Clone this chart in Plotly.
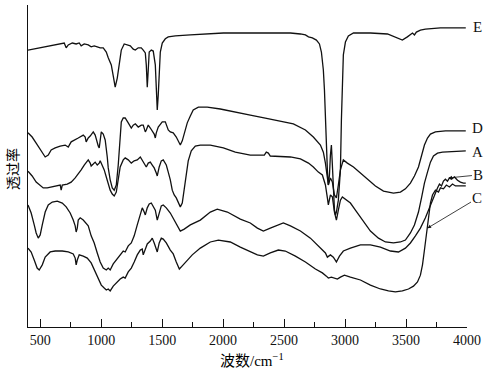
import numpy as np
import plotly.graph_objects as go

# ---- data: wavenumber (cm^-1) and transmittance (arbitrary %, offset curves) ----
wn_E = [400, 500, 623, 672, 697, 713, 730, 763, 795, 820, 836, 861, 894, 918, 943, 968, 992, 1017, 1042, 1058,
        1083, 1099, 1115, 1132, 1148, 1165, 1189, 1214, 1239, 1263, 1280, 1304, 1329, 1345, 1362, 1370, 1378, 1386,
        1394, 1411, 1427, 1444, 1452, 1460, 1468, 1476, 1485, 1501, 1526, 1550, 1608, 1731, 2002, 2305, 2552, 2634,
        2675, 2700, 2732, 2765, 2790, 2806, 2822, 2831, 2839, 2847, 2855, 2863, 2872, 2880, 2888, 2896, 2904, 2913,
        2921, 2929, 2945, 2954, 2962, 2970, 2978, 2986, 3003, 3027, 3069, 3208, 3348, 3413, 3470, 3511, 3536, 3553,
        3569, 3585, 3618, 3659, 3782, 3990]
t_E = [86.0, 86.7, 87.6, 87.9, 88.2, 86.7, 87.6, 88.2, 87.9, 88.2, 87.3, 87.9, 87.6, 87.0, 87.3, 87.0, 86.7, 86.7, 85.4, 83.6,
       81.4, 78.0, 74.5, 77.3, 82.3, 86.0, 87.9, 87.6, 87.3, 86.3, 86.0, 86.7, 86.7, 86.0, 85.1, 81.4, 74.5, 79.8,
       85.4, 86.0, 85.7, 81.4, 75.2, 67.4, 72.0, 79.8, 85.4, 88.2, 89.5, 90.1, 90.4, 90.7, 91.3, 91.3, 91.3, 91.0,
       90.7, 90.1, 89.8, 89.1, 87.9, 85.4, 79.8, 73.6, 64.3, 55.0, 48.8, 44.1, 47.2, 53.4, 56.5, 50.3, 42.5, 36.3,
       34.8, 35.7, 39.4, 44.1, 48.8, 64.3, 78.3, 84.5, 88.5, 90.4, 91.3, 91.3, 91.0, 90.1, 89.1, 90.1, 90.7, 91.3,
       90.7, 91.6, 92.2, 92.5, 92.9, 92.9]

wn_D = [400, 434, 467, 500, 525, 541, 566, 590, 623, 664, 705, 730, 754, 787, 812, 853, 869, 877, 894, 910, 935, 951,
        960, 976, 984, 992, 1001, 1017, 1033, 1050, 1058, 1074, 1091, 1107, 1124, 1140, 1156, 1165, 1181, 1197, 1222,
        1247, 1263, 1280, 1304, 1329, 1345, 1362, 1370, 1386, 1403, 1419, 1435, 1444, 1452, 1468, 1485, 1501, 1526,
        1550, 1567, 1591, 1616, 1632, 1649, 1665, 1681, 1706, 1731, 1755, 1797, 1870, 1977, 2084, 2223, 2346, 2469,
        2576, 2675, 2740, 2798, 2822, 2839, 2855, 2863, 2880, 2896, 2913, 2929, 2945, 2962, 2986, 3019, 3069, 3126,
        3191, 3249, 3315, 3397, 3454, 3495, 3536, 3569, 3602, 3627, 3651, 3676, 3700, 3741, 3823, 3990]
t_D = [60.3, 59.0, 57.1, 55.0, 53.4, 52.8, 53.4, 55.0, 55.6, 56.2, 56.5, 55.9, 57.5, 58.1, 58.7, 59.6, 59.0, 57.5, 58.7, 59.3, 60.6, 59.6,
       58.1, 56.2, 55.6, 58.1, 60.6, 59.9, 58.1, 52.8, 49.4, 45.7, 43.2, 42.5, 44.1, 50.3, 59.6, 63.7, 64.9, 64.9, 63.4,
       61.8, 62.7, 63.1, 62.1, 62.7, 62.7, 60.6, 61.2, 62.7, 61.8, 60.9, 59.9, 58.7, 60.3, 62.1, 63.1, 63.7, 63.7,
       61.2, 60.6, 60.3, 59.0, 57.8, 56.5, 57.8, 59.9, 63.4, 65.5, 67.4, 68.3, 68.3, 67.7, 66.8, 65.8, 64.9, 64.0,
       63.1, 61.2, 59.0, 56.5, 54.3, 50.9, 46.3, 44.1, 46.3, 45.0, 41.0, 40.1, 44.1, 48.8, 51.9, 50.9, 49.7, 47.8,
       45.7, 43.8, 42.2, 41.6, 41.9, 42.9, 44.7, 46.9, 49.7, 53.4, 56.5, 58.7, 59.9, 60.6, 60.9, 60.9]

wn_A = [400, 434, 467, 500, 525, 558, 590, 631, 664, 672, 681, 722, 754, 787, 812, 836, 861, 877, 894, 910, 918, 935,
        951, 968, 984, 992, 1009, 1025, 1042, 1058, 1074, 1091, 1107, 1124, 1140, 1156, 1181, 1197, 1222, 1247, 1271,
        1296, 1321, 1337, 1353, 1370, 1386, 1403, 1419, 1435, 1452, 1460, 1476, 1493, 1509, 1534, 1550, 1567, 1583,
        1599, 1616, 1632, 1649, 1665, 1681, 1698, 1714, 1739, 1772, 1813, 1895, 2002, 2100, 2223, 2338, 2354, 2371,
        2387, 2552, 2634, 2700, 2740, 2781, 2814, 2839, 2855, 2863, 2880, 2896, 2913, 2929, 2945, 2962, 2978, 3003,
        3044, 3085, 3142, 3208, 3274, 3331, 3397, 3454, 3495, 3536, 3569, 3602, 3627, 3651, 3676, 3700, 3725, 3758,
        3799, 3990]
t_A = [48.4, 46.9, 45.0, 43.8, 43.2, 43.2, 43.5, 43.8, 44.1, 42.5, 44.1, 44.4, 45.0, 46.3, 47.5, 48.8, 50.3, 51.2, 51.9, 50.9, 50.0, 50.6,
       51.2, 50.3, 50.9, 51.6, 50.3, 48.8, 46.6, 44.1, 42.5, 41.3, 40.7, 41.9, 45.7, 49.7, 51.9, 52.5, 51.9, 50.9, 51.6,
       51.9, 52.8, 51.9, 50.6, 49.7, 50.9, 51.2, 50.3, 49.4, 47.8, 46.9, 49.7, 51.6, 51.9, 50.3, 48.1, 45.7, 42.5,
       41.0, 40.1, 38.5, 37.3, 38.5, 42.5, 47.2, 51.6, 54.7, 56.2, 56.5, 56.5, 55.6, 54.3, 53.4, 53.4, 54.3, 54.0,
       53.1, 52.8, 52.2, 50.9, 49.7, 48.1, 47.2, 44.1, 40.1, 37.9, 41.0, 40.4, 35.7, 33.2, 36.3, 39.4, 40.4, 39.7,
       38.5, 36.3, 33.2, 29.8, 27.6, 26.4, 26.1, 26.4, 27.0, 29.2, 31.7, 35.7, 40.1, 44.7, 48.1, 51.2, 53.1, 54.0,
       54.3, 54.7]

wn_B = [400, 426, 451, 467, 484, 500, 517, 541, 566, 599, 640, 681, 713, 746, 771, 787, 795, 804, 812, 828, 853, 869,
        894, 918, 943, 968, 992, 1017, 1042, 1058, 1074, 1099, 1132, 1156, 1181, 1197, 1222, 1247, 1271, 1296, 1321,
        1337, 1353, 1362, 1378, 1394, 1411, 1427, 1444, 1460, 1476, 1493, 1509, 1534, 1567, 1599, 1624, 1649, 1681,
        1731, 1813, 1895, 1952, 2035, 2141, 2223, 2281, 2330, 2387, 2445, 2494, 2552, 2634, 2716, 2773, 2814, 2839,
        2855, 2880, 2904, 2929, 2954, 2986, 3044, 3126, 3208, 3290, 3372, 3438, 3495, 3536, 3577, 3618, 3659, 3700,
        3733, 3758, 3774, 3791, 3807, 3823, 3840, 3856, 3872, 3897, 3922, 3946, 3971, 3990]
t_B = [37.9, 35.4, 31.7, 29.2, 27.6, 28.6, 31.7, 35.7, 37.9, 38.8, 39.1, 38.5, 37.3, 35.4, 33.2, 31.4, 29.5, 30.7, 33.2, 33.9, 33.2, 32.6,
       31.4, 28.3, 26.1, 23.0, 20.2, 18.3, 17.7, 18.3, 17.7, 19.6, 21.1, 22.4, 23.6, 23.3, 25.2, 26.1, 28.3, 31.7, 35.4,
       37.0, 35.7, 34.8, 37.0, 38.2, 38.5, 37.6, 36.3, 33.2, 35.7, 37.6, 37.9, 37.0, 35.4, 33.2, 31.1, 29.8, 30.4,
       31.7, 33.2, 35.7, 36.6, 35.7, 33.5, 32.3, 30.7, 29.8, 30.7, 31.7, 32.3, 31.4, 29.8, 27.6, 25.5, 23.9, 23.0,
       21.7, 22.4, 21.7, 20.2, 22.0, 23.6, 24.5, 25.5, 25.5, 24.8, 23.6, 23.3, 24.5, 26.1, 28.3, 30.7, 33.9, 37.9,
       41.0, 43.2, 44.4, 43.8, 45.3, 45.9, 45.3, 46.3, 45.9, 46.6, 45.6, 45.0, 44.7, 44.7]

wn_C = [400, 426, 451, 475, 492, 517, 541, 582, 623, 681, 730, 771, 787, 795, 804, 820, 853, 886, 918, 951, 976, 1001,
        1025, 1042, 1058, 1074, 1099, 1132, 1156, 1181, 1197, 1222, 1247, 1271, 1296, 1321, 1337, 1345, 1362, 1378,
        1403, 1419, 1435, 1452, 1460, 1476, 1493, 1509, 1534, 1567, 1591, 1616, 1641, 1665, 1698, 1747, 1813, 1895,
        1961, 2059, 2141, 2223, 2281, 2330, 2387, 2453, 2510, 2593, 2675, 2757, 2814, 2847, 2863, 2888, 2913, 2937,
        2962, 2995, 3044, 3126, 3208, 3290, 3356, 3413, 3470, 3520, 3561, 3594, 3618, 3635, 3651, 3667, 3676, 3684,
        3700, 3717, 3741, 3766, 3782, 3807, 3831, 3856, 3881, 3905, 3946, 3990]
t_C = [24.5, 23.3, 20.8, 18.3, 17.7, 19.3, 21.7, 23.3, 23.6, 23.6, 23.3, 22.7, 21.4, 19.3, 20.8, 22.4, 22.0, 21.4, 19.9, 17.1, 14.6, 13.0,
       12.1, 11.5, 11.8, 11.2, 12.7, 14.0, 14.9, 15.5, 15.2, 17.1, 18.3, 20.2, 22.4, 23.9, 24.2, 22.4, 23.9, 25.8,
       26.7, 27.6, 26.1, 24.5, 23.3, 26.1, 27.6, 27.3, 26.1, 23.9, 22.7, 20.2, 18.0, 19.0, 20.5, 22.4, 24.5, 26.4,
       27.0, 26.4, 24.8, 23.3, 22.4, 22.0, 23.0, 23.9, 23.6, 22.0, 20.2, 18.0, 16.8, 15.8, 15.2, 15.5, 15.2, 14.9,
       15.5, 16.1, 15.5, 14.6, 13.0, 11.8, 11.2, 10.9, 11.2, 11.8, 12.7, 14.0, 16.1, 19.3, 23.9, 28.6, 30.7, 33.9,
       38.5, 41.0, 42.5, 41.9, 43.2, 42.9, 44.1, 43.5, 44.4, 43.8, 43.8, 43.8]

series = [("E", wn_E, t_E), ("D", wn_D, t_D), ("A", wn_A, t_A), ("B", wn_B, t_B), ("C", wn_C, t_C)]

fig = go.Figure()
for name, wn, t in series:
    fig.add_trace(go.Scatter(x=wn, y=t, mode="lines", name=name,
                             line=dict(color="#111111", width=1.3), showlegend=False))

serif = "Liberation Serif, Times New Roman, Noto Sans CJK SC, serif"
lab_font = dict(family=serif, size=15, color="#111111")

ann = []
for name, py in [("E", 0.932), ("D", 0.618), ("A", 0.543)]:
    ann.append(dict(x=1.025, y=py, xref="paper", yref="paper", text=name, showarrow=False,
                    font=lab_font, xanchor="center", yanchor="middle"))

# arrow labels: tip placed on the curve via interpolation, text offset in pixels
tipB = 3848
ann.append(dict(x=tipB, y=float(np.interp(tipB, wn_B, t_B)) + 0.5, xref="x", yref="y",
                ax=30, ay=-3, text="B", showarrow=True,
                arrowhead=2, arrowsize=0.9, arrowwidth=0.8, arrowcolor="#111111", font=lab_font))
tipC = 3676
ann.append(dict(x=tipC, y=float(np.interp(tipC, wn_C, t_C)), xref="x", yref="y",
                ax=50, ay=-30, text="C", showarrow=True,
                arrowhead=2, arrowsize=0.9, arrowwidth=0.8, arrowcolor="#111111", font=lab_font))

ann.append(dict(x=0.51, y=-0.102, xref="paper", yref="paper", text="波数/cm<sup>−1</sup>",
                showarrow=False, font=dict(family=serif, size=15, color="#000000"), yanchor="middle"))
ann.append(dict(x=-0.037, y=0.49, xref="paper", yref="paper", text="透过率", textangle=-90,
                showarrow=False, font=dict(family="Noto Sans CJK SC, sans-serif", size=14, color="#000000"),
                xanchor="center", yanchor="middle"))

fig.update_layout(
    width=498, height=374,
    margin=dict(l=28, r=31, t=5, b=47),
    paper_bgcolor="white", plot_bgcolor="white",
    annotations=ann,
    xaxis=dict(range=[400, 4000], showline=True, linecolor="#111111", linewidth=1,
               ticks="inside", tick0=500, dtick=500, ticklen=8, tickwidth=1, tickcolor="#111111",
               minor=dict(ticks="inside", tick0=250, dtick=250, ticklen=5, tickwidth=1, tickcolor="#111111"),
               tickfont=dict(family=serif, size=14, color="#111111"),
               showgrid=False, zeroline=False),
    yaxis=dict(range=[0, 100], showline=True, linecolor="#111111", linewidth=1,
               ticks="inside", tickvals=[100], ticklen=10, tickwidth=1, tickcolor="#111111",
               showticklabels=False, showgrid=False, zeroline=False),
)

fig.write_html("out.html", config={"displayModeBar": False},
               post_script="document.body.style.margin='0px';document.body.style.overflow='hidden';")
